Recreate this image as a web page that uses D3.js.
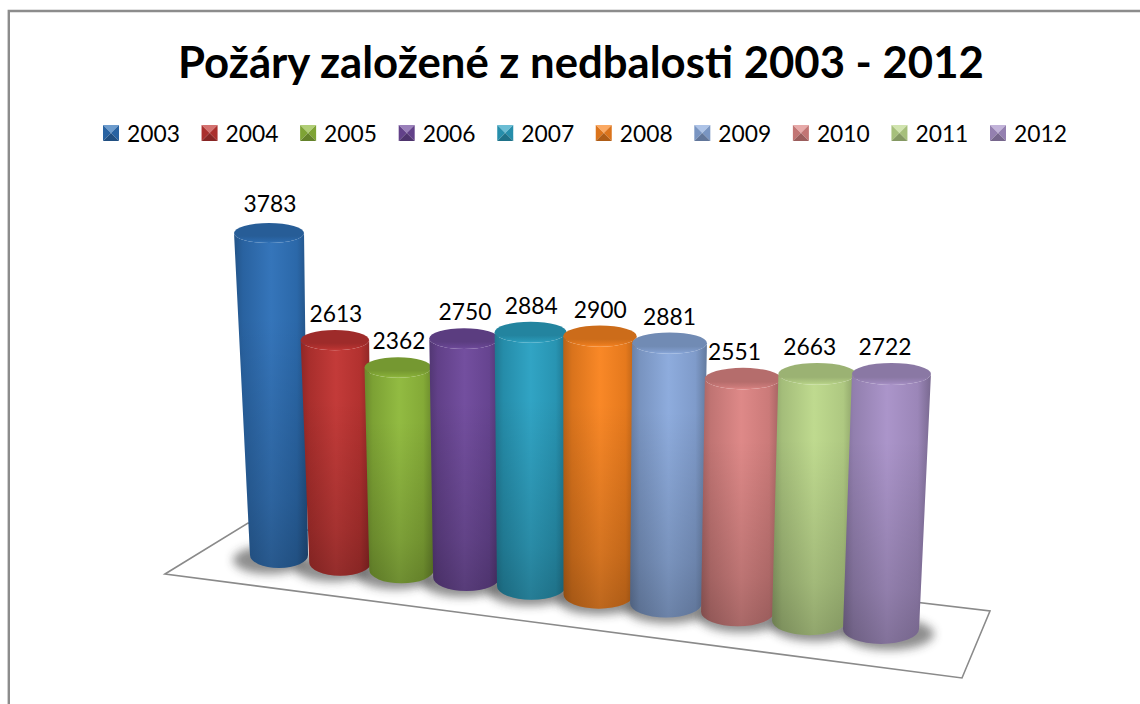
<!DOCTYPE html>
<html><head><meta charset="utf-8">
<script src="https://cdn.jsdelivr.net/npm/d3@7/dist/d3.min.js"></script>
<style>html,body{margin:0;padding:0;background:#fff}svg{display:block}text{font-family:Lato,"Open Sans",sans-serif;fill:#000}</style>
</head><body><div id="chart"></div>
<script>
const chartTitle = "Požáry založené z nedbalosti 2003 - 2012";
const years = ["2003","2004","2005","2006","2007","2008","2009","2010","2011","2012"];
const fires = [3783,2613,2362,2750,2884,2900,2881,2551,2663,2722];
const bodyColors = ["#2f71b8","#c13533","#8fb93c","#6f4a9c","#2ba1c2","#f98420","#8aa9dc","#dd8584","#bdd98c","#a892c8"];

const W = 1140, H = 704;
const svg = d3.select("#chart").append("svg").attr("width",W).attr("height",H);
const defs = svg.append("defs");
defs.append("filter").attr("id","blur").attr("x","-40%").attr("y","-60%").attr("width","180%").attr("height","220%")
  .append("feGaussianBlur").attr("stdDeviation",5);

// perspective scales along the category axis
const idx = d3.range(years.length);
const baseX = d3.scaleLinear().domain([0,2,4,6,9]).range([279,401.5,531.5,666,881]);
const floorEdge = d3.scaleLinear().domain([0,3,9]).range([568,591,644]);
const baseRx = d3.scaleLinear().domain([0,1,4,9]).range([29,31,34.5,38]);
const topRx = d3.scaleLinear().domain([0,2,4,9]).range([35,33.5,36,39.5]);
const baseRy = d3.scaleLinear().domain([0,9]).range([13,15]);
const topRy = d3.scaleLinear().domain([0,9]).range([10,11]);
const unit = d3.scaleLinear().domain([0,1.5,9]).range([.0851,.0851,.0937]);
const lean = d3.scaleLinear().domain([0,4.5,9]).range([-.031,0,.041]);
const labelDx = d3.scaleLinear().domain([0,3,6,7,9]).range([1,1,0,-8.5,-6.5]);
const labelDy = d3.scaleLinear().domain([0,1,9]).range([21.5,18.5,18.5]);
const shadowDx = d3.scaleLinear().domain([0,9]).range([-10,8]);

const geo = idx.map(i=>{
  const by = floorEdge(i)-baseRy(i), h = fires[i]*unit(i);
  return {i, bx:baseX(i), by, brx:baseRx(i), bry:baseRy(i), tx:baseX(i)+lean(i)*h, ty:by-h, trx:topRx(i), try_:topRy(i), v:fires[i], c:bodyColors[i], year:years[i]};
});

// outer frame: only the top and left edges fall inside the picture
svg.append("path").attr("d",d3.line()([[8.8,704],[8.8,11],[1140,11]])).attr("fill","none").attr("stroke","#8c8c8c").attr("stroke-width",2.4);

// floor
const floor = [[165,574],[248,523],[990,611],[962,678]];
svg.append("path").attr("d",d3.line().curve(d3.curveLinearClosed)(floor)).attr("fill","#fff").attr("stroke","#8a8a8a").attr("stroke-width",1.6);

// title
svg.append("text").attr("x",581).attr("y",78).attr("text-anchor","middle").attr("font-size",43.7).attr("font-weight",700).text(chartTitle);

// legend
const legendX = d3.scaleLinear().domain([0,9]).range([103,990]);
function shade(c,k){return k>0?d3.interpolateRgb(c,"#fff")(k):d3.interpolateRgb(c,"#000")(-k);}
const leg = svg.append("g").selectAll("g").data(geo).join("g").attr("transform",d=>`translate(${legendX(d.i)},125)`);
const s = 16, m = s/2;
[{p:[[0,0],[s,0],[m,m]],k:.3},{p:[[0,0],[m,m],[0,s]],k:-.12},{p:[[s,0],[m,m],[s,s]],k:-.12},{p:[[0,s],[m,m],[s,s]],k:-.3}].forEach(f=>{
  leg.append("polygon").attr("points",f.p.map(q=>q.join(",")).join(" ")).attr("fill",d=>shade(d.c,f.k));
});
leg.append("text").attr("x",24).attr("y",16.5).attr("font-size",22.8).text(d=>d.year);

// shadows
svg.append("g").selectAll("ellipse").data(geo).join("ellipse")
  .attr("cx",d=>d.bx+shadowDx(d.i)).attr("cy",d=>d.by+5).attr("rx",d=>d.brx+7).attr("ry",d=>d.bry+1)
  .attr("fill","#333").attr("opacity",.55).attr("filter","url(#blur)");

// gradients
geo.forEach(d=>{
  const g = defs.append("linearGradient").attr("id",`h${d.i}`).attr("x1",0).attr("x2",1).attr("y1",0).attr("y2",0);
  [[0,-.26],[.12,-.13],[.5,.03],[.85,-.08],[1,-.28]].forEach(([o,k])=>g.append("stop").attr("offset",o).attr("stop-color",shade(d.c,k)));
  const cg = defs.append("linearGradient").attr("id",`c${d.i}`).attr("x1",0).attr("x2",0).attr("y1",0).attr("y2",1);
  [[0,-.18],[.65,-.18],[.88,-.08],[1,.02]].forEach(([o,k])=>cg.append("stop").attr("offset",o).attr("stop-color",shade(d.c,k)));
});
const v = defs.append("linearGradient").attr("id","vdark").attr("x1",0).attr("x2",0).attr("y1",0).attr("y2",1);
[[0,0],[.25,0],[.8,.15],[1,.24]].forEach(([o,a])=>v.append("stop").attr("offset",o).attr("stop-color","#000").attr("stop-opacity",a));

// cylinders (far to near)
function body(d){
  return `M${d.tx-d.trx},${d.ty}L${d.bx-d.brx},${d.by}A${d.brx},${d.bry} 0 0 0 ${d.bx+d.brx},${d.by}L${d.tx+d.trx},${d.ty}A${d.trx},${d.try_} 0 0 1 ${d.tx-d.trx},${d.ty}Z`;
}
const bars = svg.append("g").selectAll("g").data(geo).join("g");
bars.append("path").attr("d",body).attr("fill",d=>`url(#h${d.i})`);
bars.append("path").attr("d",body).attr("fill","url(#vdark)");
bars.append("ellipse").attr("cx",d=>d.tx).attr("cy",d=>d.ty).attr("rx",d=>d.trx).attr("ry",d=>d.try_).attr("fill",d=>`url(#c${d.i})`);

// value labels
svg.append("g").selectAll("text").data(geo).join("text")
  .attr("x",d=>d.tx+labelDx(d.i)).attr("y",d=>d.ty-labelDy(d.i)).attr("text-anchor","middle").attr("font-size",22.8).text(d=>d.v);
</script></body></html>
